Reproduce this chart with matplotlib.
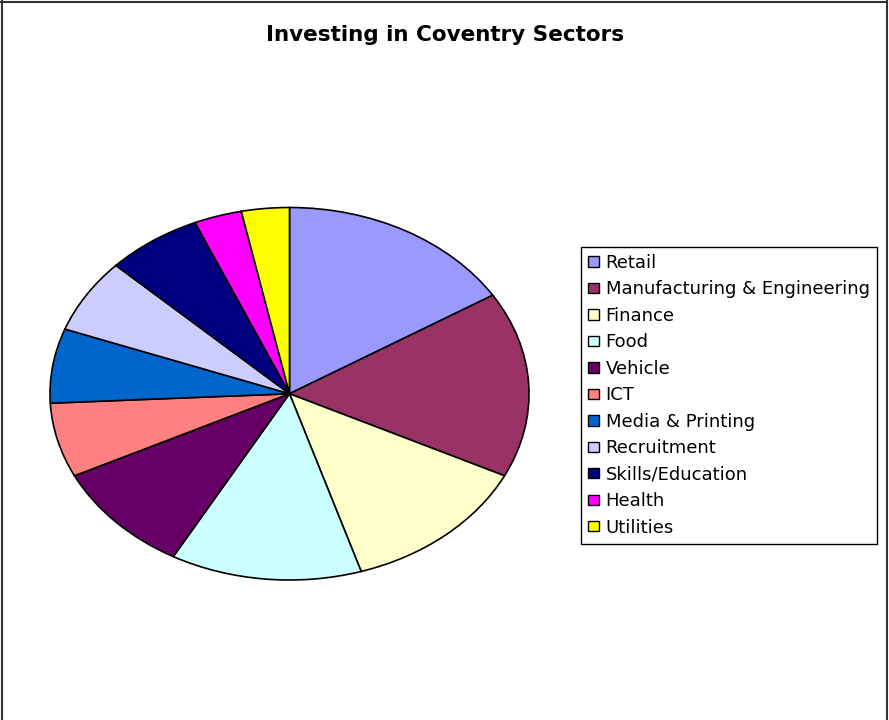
import matplotlib
matplotlib.use("Agg")
import matplotlib.pyplot as plt
from matplotlib.lines import Line2D

# Number of investments per sector
sectors = [
    "Retail", "Manufacturing & Engineering", "Finance", "Food", "Vehicle",
    "ICT", "Media & Printing", "Recruitment", "Skills/Education", "Health",
    "Utilities",
]
counts = [5, 5, 4, 4, 3, 2, 2, 2, 2, 1, 1]
colors = [
    "#9999FF", "#993366", "#FFFFCC", "#CCFFFF", "#660066",
    "#FF8080", "#0066CC", "#CCCCFF", "#000080", "#FF00FF", "#FFFF00",
]

W, H = 889, 720
fig = plt.figure(figsize=(W / 100, H / 100), dpi=100)
fig.patch.set_facecolor("white")

# Pie drawn into a wide axes so it becomes an ellipse
left, right, top, bottom = 50, 529, 207.5, 580
ax = fig.add_axes([left / W, 1 - bottom / H, (right - left) / W, (bottom - top) / H])
wedges, _ = ax.pie(
    counts, colors=colors, startangle=90, counterclock=False,
    wedgeprops=dict(edgecolor="black", linewidth=1.2),
)
for w in wedges:
    w.set_clip_on(False)
ax.set_aspect("auto")
ax.set_xlim(-1, 1)
ax.set_ylim(-1, 1)
ax.axis("off")

fig.text(445 / W, 1 - 35 / H, "Investing in Coventry Sectors",
         ha="center", va="center", fontsize=15.5, fontweight="bold",
         family="DejaVu Sans")

leg = fig.legend(
    wedges, sectors, loc="upper left",
    bbox_to_anchor=(581 / W, 1 - 247 / H), bbox_transform=fig.transFigure,
    borderaxespad=0, prop={"family": "DejaVu Sans", "size": 13},
    handlelength=0.61, handleheight=0.5, handletextpad=0.38,
    labelspacing=0.47, borderpad=0.38, fancybox=False, framealpha=1,
    edgecolor="black",
)
leg.get_frame().set_linewidth(1.0)
for h in leg.legend_handles:
    h.set_linewidth(1.0)

# Outer chart border (left, top, right)
px = lambda x, y: (x / W, 1 - y / H)
for (x0, y0), (x1, y1) in [((1.5, 0), (1.5, H)), ((0, 1.5), (887, 1.5)), ((886.5, 0), (886.5, H))]:
    fig.add_artist(Line2D([px(x0, y0)[0], px(x1, y1)[0]], [px(x0, y0)[1], px(x1, y1)[1]],
                          transform=fig.transFigure, color="#333333", linewidth=1.5))

fig.savefig("out.png", dpi=100)
